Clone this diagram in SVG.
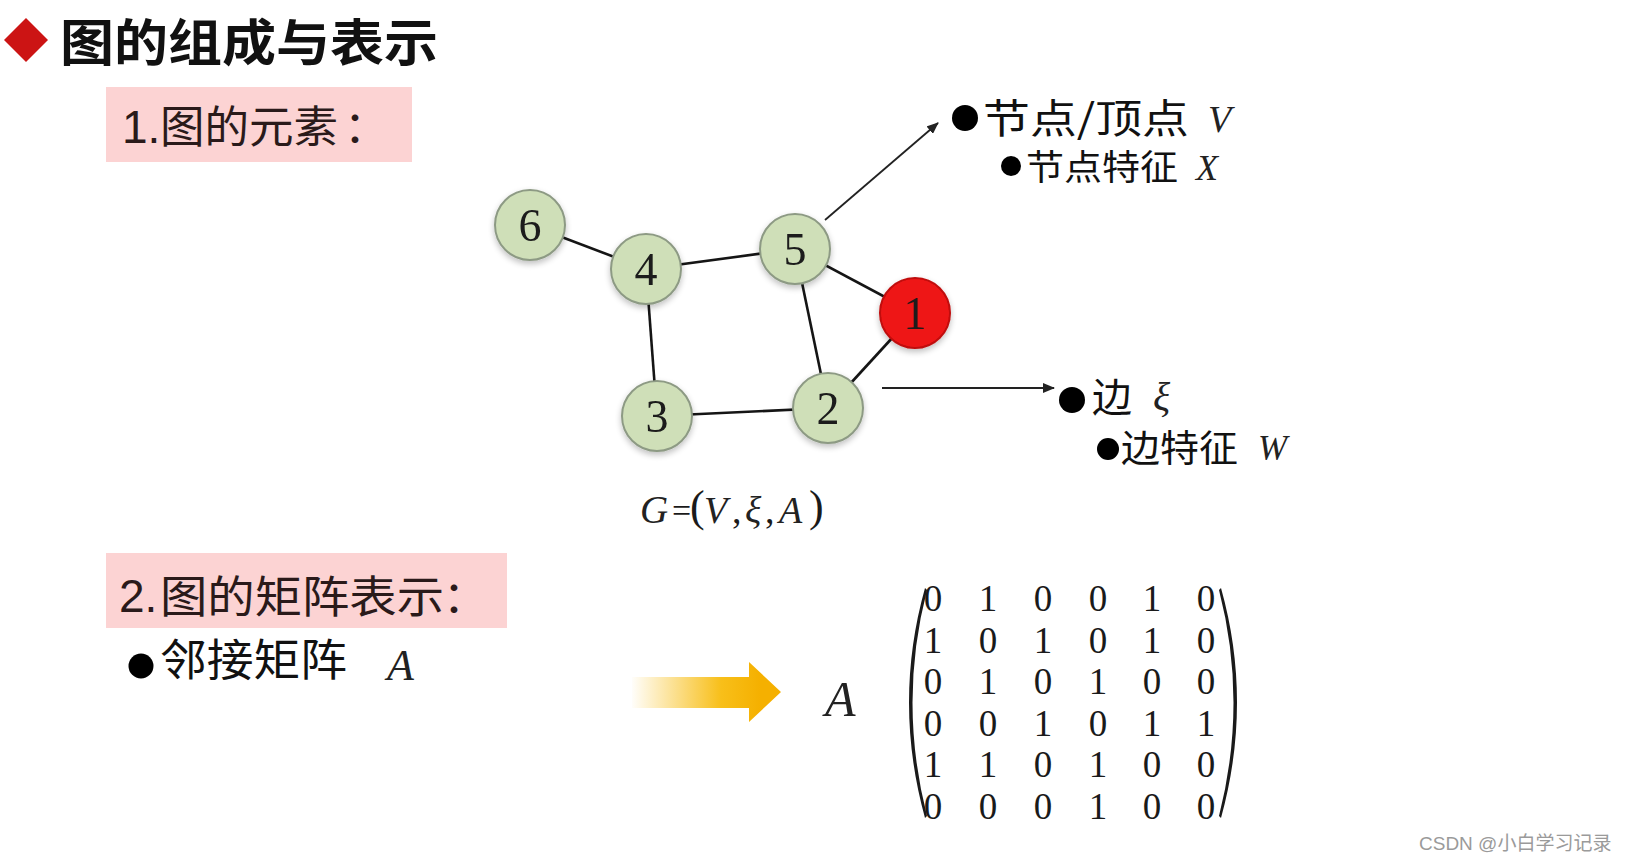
<svg xmlns="http://www.w3.org/2000/svg" width="1626" height="861" viewBox="0 0 1626 861">
<defs>
<style>
.cjk{font-family:"Noto Sans CJK SC","Noto Sans",sans-serif;fill:#111}
.lat{font-family:"Liberation Sans",Arial,sans-serif;fill:#2a1a1a}
.math{font-family:"Liberation Serif","Times New Roman",serif;font-style:italic;fill:#222}
.num{font-family:"Liberation Serif","Times New Roman",serif;fill:#1a1a1a}
.node circle{fill:#cfdfb8;stroke:#8d9a84;stroke-width:2}
.node.red circle{fill:#ee1414;stroke:#c01010}
.node text{font-family:"Liberation Serif","Times New Roman",serif;font-size:46px;text-anchor:middle;fill:#1a1a1a}
.edge{stroke:#151515;stroke-width:2.6}
.ptr{stroke:#222;stroke-width:1.8;fill:none}
.box{fill:#fcd3d3}
.mx text{font-family:"Liberation Serif","Times New Roman",serif;font-size:37px;text-anchor:middle;fill:#1a1a1a}
</style>
<marker id="ah" viewBox="0 0 12 10" refX="11" refY="5" markerWidth="12" markerHeight="10" markerUnits="userSpaceOnUse" orient="auto">
<path d="M0 0 L12 5 L0 10 Z" fill="#222"/>
</marker>
<linearGradient id="yg" x1="630" y1="0" x2="760" y2="0" gradientUnits="userSpaceOnUse">
<stop offset="0" stop-color="#f7b800" stop-opacity="0"/>
<stop offset="0.7" stop-color="#f7b800" stop-opacity="0.9"/>
<stop offset="1" stop-color="#f5b000"/>
</linearGradient>
<filter id="sh" x="-30%" y="-30%" width="160%" height="160%">
<feGaussianBlur in="SourceAlpha" stdDeviation="3"/>
<feOffset dx="0" dy="3"/>
<feComponentTransfer><feFuncA type="linear" slope="0.25"/></feComponentTransfer>
<feMerge><feMergeNode/><feMergeNode in="SourceGraphic"/></feMerge>
</filter>
</defs>
<rect width="1626" height="861" fill="#ffffff"/>

<g id="title">
<path d="M26 18 L48 40 L26 62 L4 40 Z" fill="#cc1414"/>
<text class="cjk" x="60" y="61" font-size="50" font-weight="bold" textLength="378" lengthAdjust="spacingAndGlyphs">图的组成与表示</text>
</g>

<g id="section1">
<rect class="box" x="106" y="87" width="306" height="75"/>
<text class="lat" x="122" y="143" font-size="46">1.</text>
<text class="cjk" x="160" y="143" font-size="44" textLength="178" lengthAdjust="spacingAndGlyphs" style="fill:#2a1a1a">图的元素</text>
<text class="cjk" x="344" y="143" font-size="44" style="fill:#2a1a1a">：</text>
</g>

<g id="connectors">
<line class="edge" x1="530" y1="225" x2="646" y2="269"/>
<line class="edge" x1="646" y1="269" x2="795" y2="249"/>
<line class="edge" x1="795" y1="249" x2="915" y2="313"/>
<line class="edge" x1="795" y1="249" x2="828" y2="408"/>
<line class="edge" x1="646" y1="269" x2="657" y2="416"/>
<line class="edge" x1="657" y1="416" x2="828" y2="408"/>
<line class="edge" x1="828" y1="408" x2="915" y2="313"/>
<line class="ptr" x1="825" y1="220" x2="938" y2="123" marker-end="url(#ah)"/>
<line class="ptr" x1="882" y1="388" x2="1054" y2="388" marker-end="url(#ah)"/>
</g>

<g id="node6" class="node" filter="url(#sh)"><circle cx="530" cy="225" r="35"/><text x="530" y="241">6</text></g>
<g id="node4" class="node" filter="url(#sh)"><circle cx="646" cy="269" r="35"/><text x="646" y="285">4</text></g>
<g id="node5" class="node" filter="url(#sh)"><circle cx="795" cy="249" r="35"/><text x="795" y="265">5</text></g>
<g id="node1" class="node red" filter="url(#sh)"><circle cx="915" cy="313" r="35"/><text x="915" y="329">1</text></g>
<g id="node3" class="node" filter="url(#sh)"><circle cx="657" cy="416" r="35"/><text x="657" y="432">3</text></g>
<g id="node2" class="node" filter="url(#sh)"><circle cx="828" cy="408" r="35"/><text x="828" y="424">2</text></g>

<g id="label-vertex">
<circle cx="965" cy="118" r="13" fill="#000"/>
<text class="cjk" x="983" y="133" font-size="40" textLength="206" lengthAdjust="spacingAndGlyphs">节点/顶点</text>
<text class="math" x="1208" y="132" font-size="38">V</text>
<circle cx="1011" cy="166" r="10" fill="#000"/>
<text class="cjk" x="1026" y="180" font-size="35" textLength="152" lengthAdjust="spacingAndGlyphs">节点特征</text>
<text class="math" x="1196" y="180" font-size="36">X</text>
</g>

<g id="label-edge">
<circle cx="1072" cy="400" r="13" fill="#000"/>
<text class="cjk" x="1092" y="412" font-size="40">边</text>
<text class="math" x="1153" y="410" font-size="40">ξ</text>
<circle cx="1108" cy="449" r="11" fill="#000"/>
<text class="cjk" x="1121" y="462" font-size="37" textLength="117" lengthAdjust="spacingAndGlyphs">边特征</text>
<text class="math" x="1258" y="460" font-size="35">W</text>
</g>

<g id="formula">
<text class="math" font-size="39" x="640" y="523">G</text>
<text class="num" font-size="34" x="672" y="522">=</text>
<text class="num" font-size="44" x="690" y="521">(</text>
<text class="math" font-size="38" x="704" y="523">V</text>
<text class="num" font-size="38" x="732" y="523">,</text>
<text class="math" font-size="38" x="745" y="523">ξ</text>
<text class="num" font-size="38" x="765" y="523">,</text>
<text class="math" font-size="38" x="779" y="523">A</text>
<text class="num" font-size="44" x="809" y="521">)</text>
</g>

<g id="section2">
<rect class="box" x="106" y="553" width="401" height="75"/>
<text class="lat" x="119" y="612" font-size="46">2.</text>
<text class="cjk" x="160" y="613" font-size="44" textLength="284" lengthAdjust="spacingAndGlyphs" style="fill:#2a1a1a">图的矩阵表示</text>
<text class="cjk" x="443" y="613" font-size="44" style="fill:#2a1a1a">：</text>
<circle cx="141" cy="666" r="12.5" fill="#000"/>
<text class="cjk" x="160" y="676" font-size="44" textLength="187" lengthAdjust="spacingAndGlyphs">邻接矩阵</text>
<text class="math" x="387" y="680" font-size="44">A</text>
</g>

<g id="arrow-yellow">
<path d="M632 677 L749 677 L749 662 L781 692 L749 722 L749 708 L632 708 Z" fill="url(#yg)"/>
</g>

<g id="matrix">
<text class="math" x="825" y="716" font-size="50">A</text>
<path d="M925 588 Q893 702 925 818 L927 816 Q898 702 927 590 Z" fill="#1a1a1a"/>
<path d="M1221 588 Q1253 702 1221 818 L1219 816 Q1248 702 1219 590 Z" fill="#1a1a1a"/>
<g class="mx">
<text y="611"><tspan x="933">0</tspan><tspan x="988">1</tspan><tspan x="1043">0</tspan><tspan x="1098">0</tspan><tspan x="1152">1</tspan><tspan x="1206">0</tspan></text>
<text y="653"><tspan x="933">1</tspan><tspan x="988">0</tspan><tspan x="1043">1</tspan><tspan x="1098">0</tspan><tspan x="1152">1</tspan><tspan x="1206">0</tspan></text>
<text y="694"><tspan x="933">0</tspan><tspan x="988">1</tspan><tspan x="1043">0</tspan><tspan x="1098">1</tspan><tspan x="1152">0</tspan><tspan x="1206">0</tspan></text>
<text y="736"><tspan x="933">0</tspan><tspan x="988">0</tspan><tspan x="1043">1</tspan><tspan x="1098">0</tspan><tspan x="1152">1</tspan><tspan x="1206">1</tspan></text>
<text y="777"><tspan x="933">1</tspan><tspan x="988">1</tspan><tspan x="1043">0</tspan><tspan x="1098">1</tspan><tspan x="1152">0</tspan><tspan x="1206">0</tspan></text>
<text y="819"><tspan x="933">0</tspan><tspan x="988">0</tspan><tspan x="1043">0</tspan><tspan x="1098">1</tspan><tspan x="1152">0</tspan><tspan x="1206">0</tspan></text>
</g>
</g>

<g id="watermark">
<text x="1419" y="850" font-size="19" font-family="'Liberation Sans','Noto Sans CJK SC',sans-serif" fill="#9a9a9a" stroke="#ffffff" stroke-width="0.6" paint-order="stroke">CSDN @小白学习记录</text>
</g>
</svg>
